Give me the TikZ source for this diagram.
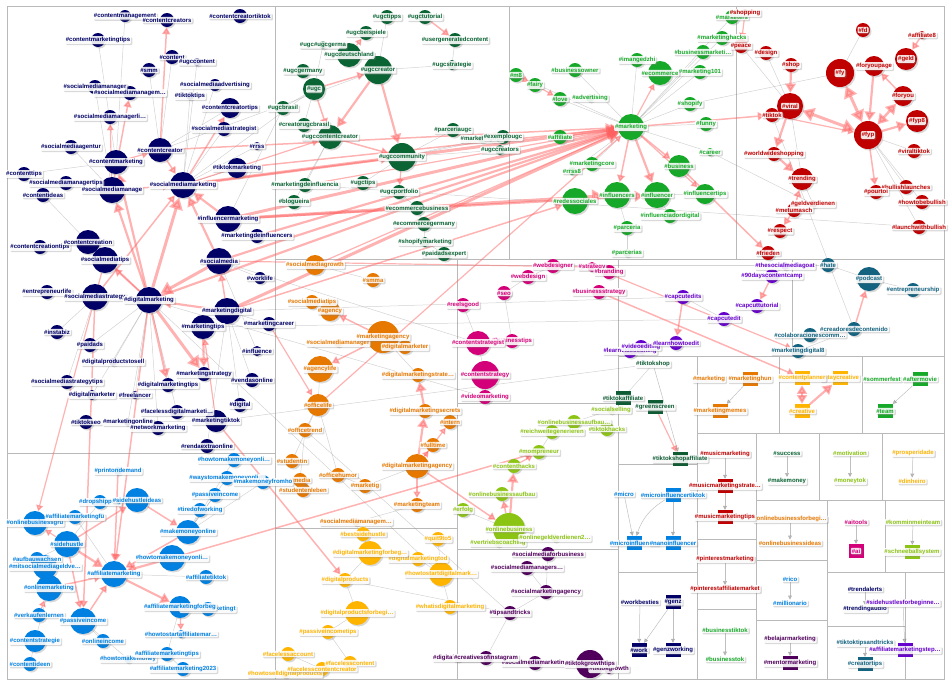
\documentclass[tikz,border=0pt]{standalone}
\usepackage{fontspec}
\setmainfont{Liberation Sans}
\usetikzlibrary{arrows.meta,shadows}
\pgfdeclarelayer{edges}
\pgfsetlayers{edges,main}
% colours of the groups
\definecolor{cnv}{RGB}{0,0,102}
\definecolor{cug}{RGB}{10,100,52}
\definecolor{cgr}{RGB}{22,168,40}
\definecolor{crd}{RGB}{192,0,0}
\definecolor{cor}{RGB}{230,120,0}
\definecolor{cpk}{RGB}{212,0,122}
\definecolor{cpu}{RGB}{102,0,204}
\definecolor{ctl}{RGB}{18,98,128}
\definecolor{cts}{RGB}{14,92,52}
\definecolor{cyl}{RGB}{255,180,0}
\definecolor{clm}{RGB}{140,196,20}
\definecolor{cdp}{RGB}{80,0,92}
\definecolor{cbl}{RGB}{0,128,224}
\definecolor{cedge}{RGB}{255,95,95}
\newcommand\tagfont{\fontsize{6}{7}\selectfont\bfseries}
% round vertices: name/x/y/size/colour/text
\newcommand\hublist{%
  contentmanagement/125/16/12/cnv/contentmanagement,
  contentcreators/167/20/14/cnv/contentcreators,
  creatortiktok/240/16/14/cnv/contentcreatortiktok,
  cmtips/98/40/14/cnv/contentmarketingtips,
  content/172/57/14/cnv/content,
  ugccontent/197/62/8/cnv/ugccontent,
  smm/149/70/14/cnv/smm,
  smmanager/95/87/14/cnv/socialmediamanager,
  smadvertising/215/85/12/cnv/socialmediaadvertising,
  smmanagem/130/93/14/cnv/socialmediamanagem\ldots,
  tiktoktips/190/96/8/cnv/tiktoktips,
  cctips/230/108/20/cnv/contentcreatortips,
  smmanagerli/110/117/14/cnv/socialmediamanagerli\ldots,
  smstrategist/224/129/14/cnv/socialmediastrategist,
  smagentur/71/147/14/cnv/socialmediaagentur,
  contentcreator/160/150/24/cnv/contentcreator,
  rrss/257/146/8/cnv/rrss,
  contentmarketing/116/162/24/cnv/contentmarketing,
  tiktokmarketing/237/168/20/cnv/tiktokmarketing,
  contenttips/24/174/14/cnv/contenttips,
  smmanagertips/66/183/14/cnv/socialmediamanagertips,
  smmarketing/183/185/26/cnv/socialmediamarketing,
  smmanage/112/190/26/cnv/socialmediamanage,
  contentideas/43/195/14/cnv/contentideas,
  imarketing/228/219/26/cnv/influencermarketing,
  mdinfluencers/257/236/14/cnv/marketingdeinfluencers,
  cctipsb/40/247/14/cnv/contentcreationtips,
  contentcreation/88/242/24/cnv/contentcreation,
  smtips/105/260/26/cnv/socialmediatips,
  socialmedia/219/261/26/cnv/socialmedia,
  worklife/260/278/12/cnv/worklife,
  entrepreneurlife/47/292/14/cnv/entrepreneurlife,
  smstrategy/95/297/26/cnv/socialmediastrategy,
  digitalmarketing/149/300/26/cnv/digitalmarketing,
  marketingdigital/227/311/26/cnv/marketingdigital,
  marketingtips/203/327/24/cnv/marketingtips,
  marketingcareer/269/324/14/cnv/marketingcareer,
  instabiz/57/332/14/cnv/instabiz,
  paidads/90/345/14/cnv/paidads,
  influence/257/351/10/cnv/influence,
  dpts/113/362/8/cnv/digitalproductstosell,
  vendasonline/252/380/14/cnv/vendasonline,
  mstrategy/204/374/14/cnv/marketingstrategy,
  smstrategytips/67/382/14/cnv/socialmediastrategytips,
  dmtips/168/385/14/cnv/digitalmarketingtips,
  digitalmarketer/92/395/10/cnv/digitalmarketer,
  freelancer/135/395/8/cnv/freelancer,
  digital/240/405/14/cnv/digital,
  fdm/177/412/14/cnv/facelessdigitalmarketi\ldots,
  mtiktok/216/421/22/cnv/marketingtiktok,
  tiktokseo/86/422/14/cnv/tiktokseo,
  monline/128/422/8/cnv/marketingonline,
  networkmarketing/158/428/14/cnv/networkmarketing,
  rendaextra/207/446/14/cnv/rendaextraonline,
  ugctipps/387/17/14/cug/ugctipps,
  ugctutorial/425/17/14/cug/ugctutorial,
  ugcbeispiele/366/33/14/cug/ugcbeispiele,
  ugcgerma/323/45/8/cug/ugc\#ugcgerma,
  usergenerated/455/40/14/cug/usergeneratedcontent,
  ugcdeutschland/349/55/24/cug/ugcdeutschland,
  ugcstrategie/452/65/10/cug/ugcstrategie,
  ugccreator/378/70/28/cug/ugccreator,
  ugcgermany/303/71/14/cug/ugcgermany,
  ugc/314/89/22/cug/ugc,
  ugcbrasil/283/108/14/cug/ugcbrasil,
  creatorugc/304/125/14/cug/creatorugcbrasil,
  ugccc/330/137/24/cug/ugccontentcreator,
  parceriaugc/453/130/14/cug/parceriaugc,
  marketingugc/482/139/8/cug/marketingugc,
  exemplougc/503/137/14/cug/exemplougc,
  ugccreators/500/150/10/cug/ugccreators,
  ugccommunity/402/157/28/cug/ugccommunity,
  mdinfluencia/305/185/14/cug/marketingdeinfluencia,
  ugctips/363/183/14/cug/ugctips,
  ugcportfolio/399/192/14/cug/ugcportfolio,
  blogueira/294/202/14/cug/blogueira,
  ecombusiness/417/208/14/cug/ecommercebusiness,
  ecomgermany/424/224/14/cug/ecommercegermany,
  shopifymarketing/425/242/10/cug/shopifymarketing,
  paidadsexpert/444/254/14/cug/paidadsexpert,
  marketers/732/17/14/cgr/marketers,
  mhacks/722/38/14/cgr/marketinghacks,
  bmarketing/703/52/14/cgr/businessmarketi\ldots,
  imangedzhi/637/60/14/cgr/imangedzhi,
  businessowner/575/70/14/cgr/businessowner,
  marketing101/700/72/14/cgr/marketing101,
  ecommerce/660/73/24/cgr/ecommerce,
  m8/516/75/14/cgr/m8,
  fairy/535/85/14/cgr/fairy,
  advertising/590/98/8/cgr/advertising,
  love/560/99/14/cgr/love,
  shopify/690/104/14/cgr/shopify,
  affiliate/560/137/14/cgr/affiliate,
  marketing/631/127/26/cgr/marketing,
  funny/706/124/14/cgr/funny,
  career/710/152/8/cgr/career,
  marketingcore/592/164/14/cgr/marketingcore,
  rrss8/572/171/8/cgr/rrss8,
  business/679/166/22/cgr/business,
  influencers/617/195/26/cgr/influencers,
  influencer/657/195/26/cgr/influencer,
  redessociales/575/201/26/cgr/redessociales,
  influencertips/705/194/20/cgr/influencertips,
  influenciador/670/216/14/cgr/influenciadordigital,
  parceria/627/228/14/cgr/parceria,
  parcerias/627/253/8/cgr/parcerias,
  shopping/745/13/8/crd/shopping,
  fd/863/30/14/crd/fd,
  affiliate8/922/35/8/crd/affiliate8,
  peace/741/46/14/crd/peace,
  design/766/53/14/crd/design,
  shop/791/65/14/crd/shop,
  geld/906/59/22/crd/geld,
  foryoupage/874/66/20/crd/foryoupage,
  fy/840/73/28/crd/fy,
  viral/790/106/26/crd/viral,
  tiktok/772/115/14/crd/tiktok,
  foryou/903/96/20/crd/foryou,
  fyp/868/135/28/crd/fyp,
  fyp8/917/121/22/crd/fyp8,
  worldwide/774/154/14/crd/worldwideshopping,
  viraltiktok/914/151/14/crd/viraltiktok,
  trending/802/179/22/crd/trending,
  bullish/906/187/14/crd/bullishlaunches,
  pourtoi/876/192/14/crd/pourtoi,
  howbullish/922/202/14/crd/howtobebullish,
  geldverdienen/813/204/8/crd/geldverdienen,
  metumasch/794/210/14/crd/metumasch,
  respect/780/231/14/crd/respect,
  launchbullish/919/227/14/crd/launchwithbullish,
  frieden/768/253/14/crd/frieden,
  smgrowth/315/265/20/cor/socialmediagrowth,
  smma/373/280/14/cor/smma,
  smtipsb/312/302/14/cor/socialmediatips,
  agency/330/311/20/cor/agency,
  smmanagerb/338/343/8/cor/socialmediamanager,
  magency/383/337/32/cor/marketingagency,
  digitalmarketerb/405/347/14/cor/digitalmarketer,
  agencylife/320/369/26/cor/agencylife,
  dmstrategy/418/375/14/cor/digitalmarketingstrate\ldots,
  officelife/318/405/22/cor/officelife,
  dmsecrets/425/411/14/cor/digitalmarketingsecrets,
  intern/450/422/14/cor/intern,
  officetrend/305/430/14/cor/officetrend,
  fulltime/433/445/14/cor/fulltime,
  studentin/292/461/14/cor/studentin,
  dmagency/417/466/24/cor/digitalmarketingagency,
  officehumor/338/475/14/cor/officehumor,
  studentenleben/303/490/14/cor/studentenleben,
  media/300/480/14/cor/media,
  marketig/365/486/14/cor/marketig,
  mteam/417/505/14/cor/marketingteam,
  smmanagemb/356/522/8/cor/socialmediamanagem\ldots,
  webdesigner/553/266/14/cpk/webdesigner,
  strategy/592/267/10/cpk/strategy,
  branding/609/272/14/cpk/branding,
  webdesign/528/277/14/cpk/webdesign,
  businessstrategy/599/292/14/cpk/businessstrategy,
  seo/504/293/14/cpk/seo,
  reelsgood/463/305/14/cpk/reelsgood,
  businesstips/512/341/14/cpk/businesstips,
  contentstrategist/478/343/24/cpk/contentstrategist,
  contentstrategy/485/375/28/cpk/contentstrategy,
  videomarketing/485/397/14/cpk/videomarketing,
  thesmgoat/785/266/8/cpu/thesocialmediagoat,
  daycamp/772/276/14/cpu/90dayscontentcamp,
  capcutedits/683/297/14/cpu/capcutedits,
  capcuttutorial/757/306/14/cpu/capcuttutorial,
  capcutedit/724/319/14/cpu/capcutedit,
  learnvideo/630/351/14/cpu/learnvideoediting,
  videoediting/641/347/14/cpu/videoediting,
  learnhowtoedit/676/343/14/cpu/learnhowtoedit,
  hate/828/265/14/ctl/hate,
  podcast/869/279/24/ctl/podcast,
  entrepreneurship/913/290/14/ctl/entrepreneurship,
  colaboraciones/810/335/14/ctl/colaboracionescomm\ldots,
  creadores/854/329/14/ctl/creadoresdecontenido,
  md8/798/351/14/ctl/marketingdigital8,
  socialselling/611/410/8/clm/socialselling,
  obaufbau/574/422/14/clm/onlinebusinessaufbau\ldots,
  reichweite/552/432/14/clm/reichweitegenerieren,
  tiktokhacks/607/429/14/clm/tiktokhacks,
  mompreneur/539/452/14/clm/mompreneur,
  contenthacks/514/466/14/clm/contenthacks,
  obaufbaub/502/494/14/clm/onlinebusinessaufbau,
  erfolg/463/510/14/clm/erfolg,
  vertrieb/498/543/8/clm/vertriebscoaching,
  ogv/555/538/8/clm/onlinegeldverdienen2\ldots,
  onlinebusiness/509/529/32/clm/onlinebusiness,
  smforbusiness/548/554/14/cdp/socialmediaforbusiness,
  smmanagers/527/568/14/cdp/socialmediamanagers\ldots,
  smagency/546/592/14/cdp/socialmarketingagency,
  tipsandtricks/510/613/14/cdp/tipsandtricks,
  digitalm/458/658/8/cdp/digitalmarketing,
  smmarketingb/535/663/14/cdp/socialmediamarketing,
  creativesofig/486/658/14/cdp/creativesofinstagram,
  tiktokgrowth/609/669/10/cdp/tiktokgrowth,
  tiktokgrowthtips/590/664/28/cdp/tiktokgrowthtips,
  bestsidehustle/363/534/14/cyl/bestsidehustle,
  quit/438/539/14/cyl/quit9to5,
  dmtoday/418/559/14/cyl/digitalmarketingtod,
  dmforbeg/370/553/24/cyl/digitalmarketingforbeg\ldots,
  howtostartdm/441/574/24/cyl/howtostartdigitalmark\ldots,
  digitalproducts/345/580/14/cyl/digitalproducts,
  whatisdm/450/607/14/cyl/whatisdigitalmarketing,
  dpforbegi/357/613/24/cyl/digitalproductsforbegi\ldots,
  passiveincometips/328/632/14/cyl/passiveincometips,
  facelessaccount/288/654/14/cyl/facelessaccount,
  howtosell/285/674/8/cyl/howtoselldigitalproducts,
  facelesscontent/350/663/14/cyl/facelesscontent,
  facelesscc/322/669/14/cyl/facelesscontentcreator,
  howtomakemoneyonli/234/460/14/cbl/howtomakemoneyonli\ldots,
  printondemand/118/471/8/cbl/printondemand,
  waystomake/227/478/14/cbl/waystomakemoneyonli\ldots,
  makemoneyfromhome/263/482/14/cbl/makemoneyfromho,
  passiveincomeb/215/495/14/cbl/passiveincome,
  dropshipping/100/502/14/cbl/dropshipping,
  sidehustleideas/137/500/24/cbl/sidehustleideas,
  tiredofworking/200/510/14/cbl/tiredofworking,
  onlinebusinessgr/35/523/24/cbl/onlinebusinessgrü,
  affmarketingfu/75/517/14/cbl/affiliatemarketingfü,
  makemoneyonline/188/532/24/cbl/makemoneyonline,
  sidehustle/67/544/26/cbl/sidehustle,
  aufbau/37/559/14/cbl/aufbauwachsen,
  mitsm/45/567/24/cbl/mitsocialmediageldve\ldots,
  howtomakemoneyonlib/172/558/26/cbl/howtomakemoneyonli\ldots,
  affiliatemarketing/114/574/26/cbl/affiliatemarketing,
  affiliatetiktok/206/577/14/cbl/affiliatetiktok,
  onlinemarketing/49/588/26/cbl/onlinemarketing,
  affmarketingt/208/609/14/cbl/affiliatemarketingt,
  affforbeg/180/607/22/cbl/affiliatemarketingforbeg,
  verkaufen/39/615/14/cbl/verkaufenlernen,
  passiveincome/83/621/26/cbl/passiveincome,
  howtostartaff/181/634/8/cbl/howtostartaffiliatemar\ldots,
  contentstrategie/35/641/22/cbl/contentstrategie,
  onlineincome/103/641/14/cbl/onlineincome,
  howtomakemoney/128/659/8/cbl/howtomakemoney,
  afftips/167/654/14/cbl/affiliatemarketingtips,
  contentideen/30/664/14/cbl/contentideen,
  aff2023/183/669/14/cbl/affiliatemarketing2023}
% square vertices: name/x/y/colour/text
\newcommand\boxlist{%
  tiktokaffiliate/623/398/cts/tiktokaffiliate,
  greenscreen/655/407/cts/greenscreen,
  tiktokshopaffiliate/680/459/cts/tiktokshopaffiliate,
  marketinghun/750/379/cor/marketinghun,
  marketingmemes/720/411/cor/marketingmemes,
  staycreative/840/378/cyl/staycreative,
  contentplanner/802/378/cyl/contentplanner,
  creative/802/411/cyl/creative,
  aftermovie/920/379/cgr/aftermovie,
  team/885/411/cgr/team,
  mmstrategy/725/486/crd/musicmarketingstrate\ldots,
  mmtips/725/517/crd/musicmarketingtips,
  microtiktok/673/495/cbl/microinfluencertiktok,
  microinflu/634/543/cbl/microinfluencer,
  nanoinfluencer/673/543/cbl/nanoinfluencer,
  ai/856/551/cpk/ai,
  schneeball/912/552/clm/schneeballsystem,
  genz/673/602/cnv/genz,
  work/639/650/cnv/work,
  genzworking/673/650/cnv/genzworking,
  mentormarketing/790/663/cdp/mentormarketing,
  creatortips/865/664/ctl/creatortips,
  affstep/905/650/cpu/affiliatemarketingstep\ldots}
% vertices shown by their text only: name/x/y/colour/text
\newcommand\taglist{%
  tiktokshop/653/364/cts/tiktokshop,
  marketin/709/379/cor/marketing,
  sommerfest/882/379/cgr/sommerfest,
  success/787/453/cug/success,
  makemoney/787/481/cug/makemoney,
  motivation/850/453/clm/motivation,
  moneytok/850/481/clm/moneytok,
  prosperidade/913/453/cyl/prosperidade,
  dinheiro/912/481/cyl/dinheiro,
  musicmarketing/725/454/crd/musicmarketing,
  micro/624/494/cbl/micro,
  obforbeg/790/519/cor/onlinebusinessforbegi\ldots,
  obideas/790/543/cor/onlinebusinessideas,
  aitools/856/522/cpk/aitools,
  kommin/913/522/clm/komminmeinteam,
  pinterestmarketing/725/559/crd/pinterestmarketing,
  pinterestaff/725/589/crd/pinterestaffiliatemarket,
  rico/790/579/cbl/rico,
  millionario/790/603/cbl/millionario,
  workbesties/640/602/cnv/workbesties,
  businesstiktok/725/630/cgr/businesstiktok,
  businesstok/725/659/cgr/businesstok,
  belajar/790/639/cdp/belajarmarketing,
  trendalerts/865/589/cnv/trendalerts,
  trendingaudio/865/609/cnv/trendingaudio,
  tttricks/865/643/ctl/tiktoktipsandtricks,
  shforbeg/903/603/cpu/sidehustlesforbeginne\ldots}
\begin{document}
\begin{tikzpicture}[x=1pt,y=-1pt,
  hub/.style={circle, fill=#1, inner sep=0pt, drop shadow={shadow xshift=1.5pt, shadow yshift=-1.5pt, opacity=.3}},
  tag/.style={fill=white, fill opacity=.88, text opacity=1, text=#1, font=\tagfont, inner sep=1pt, rounded corners=1pt, drop shadow={shadow xshift=1.2pt, shadow yshift=-1.2pt, opacity=.3}},
  box/.style={rectangle, fill=#1, minimum width=15pt, minimum height=14pt, inner sep=0pt},
  panel/.style={draw=gray!55, line width=.6pt},
  redge/.style={draw=cedge, opacity=.48, line width=#1, -{Triangle[]}},
  redge/.default=1.5pt,
  gedge/.style={draw=gray, opacity=.35, line width=.5pt},
  garrow/.style={draw=gray, opacity=.5, line width=.5pt, -{Triangle[length=4pt,width=4pt]}}]
\useasboundingbox (0,0) rectangle (950,686);

% vertices
\foreach \n/\x/\y/\d/\c/\t in \hublist
  \node[hub=\c, minimum size=\d pt] (\n) at (\x,\y) {};
\foreach \n/\x/\y/\c/\t in \boxlist
  \node[box=\c] (\n) at (\x,\y) {};
\foreach \n/\x/\y/\c/\t in \taglist
  \node[tag=\c] (\n) at (\x,\y) {\#\t};

\begin{pgfonlayer}{edges}
% panels
\draw[panel] (7,6) rectangle (944,679);
\draw[panel] (275,6) -- (275,679) (509,6) -- (509,259) (736,6) -- (736,259)
  (275,259) -- (944,259) (7,453) -- (275,453) (275,528) -- (457,528)
  (457,259) -- (457,679) (457,403) -- (618,403) (457,549) -- (618,549)
  (618,259) -- (618,679) (792,259) -- (792,356) (618,356) -- (944,356)
  (697,356) -- (697,679) (779,356) -- (779,433) (862,356) -- (862,433)
  (697,433) -- (944,433) (618,464) -- (697,464) (618,572) -- (697,572)
  (756,433) -- (756,679) (819,433) -- (819,500) (882,433) -- (882,500)
  (756,500) -- (944,500) (697,539) -- (756,539) (697,609) -- (756,609)
  (827,500) -- (827,679) (885,500) -- (885,572) (756,560) -- (827,560)
  (756,620) -- (827,620) (827,572) -- (944,572) (905,572) -- (905,679)
  (827,626) -- (905,626);

% grey edges
\foreach \a/\b in {cmtips/contentmarketing, content/contentcreator, smm/contentcreator,
  ugccontent/smmarketing, smadvertising/smmarketing, tiktoktips/smmarketing,
  smstrategist/smmarketing, rrss/smmarketing, smagentur/smmanage, contenttips/contentmarketing,
  smmanagertips/smmanage, contentideas/contentcreation, cctipsb/contentcreation,
  entrepreneurlife/smstrategy, instabiz/smstrategy, paidads/digitalmarketing,
  dpts/digitalmarketing, smstrategytips/smstrategy, digitalmarketer/digitalmarketing,
  freelancer/digitalmarketing, tiktokseo/mtiktok, monline/digitalmarketing,
  networkmarketing/digitalmarketing, fdm/digitalmarketing, digital/marketingdigital,
  vendasonline/marketingdigital, influence/socialmedia, worklife/socialmedia,
  marketingcareer/marketingdigital, rendaextra/marketingdigital, contentmanagement/contentmarketing,
  smmanager/smmanage, tiktokmarketing/smmarketing, cctips/contentcreator,
  contentcreator/ugccreator, smmarketing/ugc, imarketing/ugcbrasil, shopify/fy,
  career/geldverdienen, mtiktok/tiktokshop, digitalmarketing/videomarketing,
  marketingtips/capcutedit, tiktok/creadores, socialmedia/contentstrategist,
  digitalmarketing/howtostartdm, marketingdigital/capcutedits,
  ugc/ugcgermany, ugc/ugcbrasil, ugc/creatorugc, ugc/ugcgerma, ugccreator/ugcstrategie,
  ugccreator/ugctipps, usergenerated/ugcstrategie, ugccommunity/ugccreators,
  ugccommunity/parceriaugc, ugccommunity/exemplougc, ugccommunity/ugctips,
  ugcportfolio/ecombusiness, ecombusiness/ecomgermany, ugccc/mdinfluencia, ugccc/blogueira,
  ecomgermany/shopifymarketing, shopifymarketing/paidadsexpert, ugccommunity/marketingugc,
  marketing/m8, marketing/love, marketing/businessowner, marketing/imangedzhi,
  marketing/shopify, marketing/funny, marketing/career, marketing/marketingcore,
  marketing/rrss8, marketing/marketers, marketing/mhacks, marketing/bmarketing,
  marketing/marketing101, influencer/influenciador, influencers/parceria, parceria/parcerias,
  influencer/influencertips, fy/fd, fyp/viraltiktok, fyp/bullish, fyp/howbullish,
  fyp/launchbullish, fy/foryoupage, viral/design, viral/peace, trending/geldverdienen,
  viral/trending, smgrowth/smma, agency/smtipsb, agencylife/officelife,
  officelife/officetrend, officelife/studentin, officehumor/officelife, media/officetrend,
  marketig/officehumor, mteam/smmanagemb, dmagency/marketig, magency/digitalmarketerb,
  dmstrategy/magency, studentenleben/media, reelsgood/contentstrategist, seo/businesstips,
  webdesign/webdesigner, contentstrategist/contentstrategy, contentstrategy/videomarketing,
  webdesign/seo, capcutedits/capcutedit, thesmgoat/daycamp, videoediting/learnhowtoedit,
  hate/podcast, podcast/entrepreneurship, colaboraciones/creadores, md8/creadores,
  tiktokshop/tiktokaffiliate, erfolg/onlinebusiness, onlinebusiness/ogv,
  onlinebusiness/vertrieb, mompreneur/reichweite, obaufbau/socialselling,
  tiktokhacks/obaufbau, smforbusiness/smagency, smmanagers/smagency,
  tipsandtricks/creativesofig, tipsandtricks/smagency, creativesofig/tiktokgrowthtips,
  tiktokgrowthtips/tiktokgrowth, dmforbeg/bestsidehustle, dmforbeg/digitalproducts,
  digitalproducts/dpforbegi, dpforbegi/passiveincometips, passiveincometips/facelesscontent,
  facelessaccount/facelesscc, howtostartdm/whatisdm, howtostartdm/dmtoday,
  quit/howtostartdm, facelesscc/howtosell, digitalproducts/tipsandtricks,
  howtomakemoneyonli/makemoneyonline, waystomake/makemoneyonline,
  makemoneyfromhome/makemoneyonline, passiveincomeb/makemoneyonline,
  tiredofworking/makemoneyonline, affiliatetiktok/affiliatemarketing,
  affmarketingfu/affiliatemarketing, dropshipping/sidehustle, onlineincome/passiveincome,
  contentstrategie/onlinemarketing, contentideen/contentstrategie,
  howtomakemoney/passiveincome, afftips/affforbeg, aff2023/afftips,
  affmarketingt/affforbeg, aufbau/sidehustle, mdinfluencia/launchbullish,
  smgrowth/hate, officetrend/tipsandtricks}
  \draw[gedge] (\a) -- (\b);

% grey arrows in the small panels
\foreach \a/\b in {success/makemoney, motivation/moneytok, prosperidade/dinheiro,
  musicmarketing/mmstrategy, mmstrategy/mmtips, micro/microinflu, microtiktok/nanoinfluencer,
  obforbeg/obideas, aitools/ai, kommin/schneeball, pinterestmarketing/pinterestaff,
  rico/millionario, workbesties/work, genz/genzworking, genz/work,
  businesstiktok/businesstok, belajar/mentormarketing, trendalerts/trendingaudio,
  tttricks/creatortips, shforbeg/affstep, tiktokshop/tiktokshopaffiliate,
  marketinghun/marketingmemes, aftermovie/team}
  \draw[garrow] (\a) -- (\b);
\draw[garrow] (microtiktok) to[bend right=20] (microinflu);

% red edges, by width
\foreach \a/\b in {smmanage/smmanagerli, contentmarketing/contentcreator,
  mtiktok/marketingtips, smtips/onlinebusinessgr, mdinfluencia/marketing,
  smgrowth/marketing, officelife/marketing, smmarketing/ugccc, ugcdeutschland/ugcbeispiele,
  ugccommunity/ugcportfolio, m8/fairy, fairy/love, affiliate/marketing,
  marketing/ecommerce, marketing/influencertips, shopping/peace, tiktok/fyp,
  dmagency/fulltime, dmagency/intern, dmagency/mteam, marketingcareer/officelife,
  affforbeg/howtostartaff, sidehustle/onlinebusinessgr, verkaufen/onlinemarketing,
  mitsm/onlinemarketing, contenthacks/mompreneur, strategy/md8,
  greenscreen/tiktokshopaffiliate, socialmedia/strategy}
  \draw[redge=1.2pt] (\a) -- (\b);
\foreach \a/\b in {contentcreator/contentcreators, smmarketing/cctips, smmanage/smmanagem,
  digitalmarketing/contentcreation, digitalmarketing/smtips, marketingdigital/socialmedia,
  smmanage/smmarketing, contentcreator/smmarketing, smstrategy/smmarketing,
  digitalmarketing/affiliatemarketing, smstrategy/passiveincome, contentcreator/marketing,
  tiktokmarketing/marketing, marketingdigital/redessociales, smmarketing/ugccommunity,
  ugc/ugccc, ugc/ugccreator, ugctutorial/usergenerated, ugccc/ugccommunity,
  marketing/business, marketing/influencers, marketing/tiktok, business/frieden,
  fyp/pourtoi, metumasch/trending, metumasch/respect, affiliate8/geld, foryou/foryoupage,
  magency/agencylife, magency/agency, dmagency/onlinebusiness, mtiktok/digitalproducts,
  printondemand/affiliatemarketing, sidehustle/sidehustleideas,
  sidehustleideas/makemoneyonline, makemoneyonline/affiliatemarketing,
  onlinemarketing/affiliatemarketing, sidehustle/passiveincome,
  howtomakemoneyonlib/mompreneur, passiveincome/affiliatemarketing,
  onlinebusiness/obaufbaub, capcutedits/learnhowtoedit, daycamp/capcuttutorial,
  creadores/podcast, businessstrategy/contentplanner}
  \draw[redge] (\a) -- (\b);
\foreach \a/\b in {digitalmarketing/contentmarketing, digitalmarketing/dmtips,
  marketingdigital/digitalmarketing, imarketing/smmarketing, socialmedia/smmarketing,
  digitalmarketing/smmanage, mdinfluencers/marketing, socialmedia/marketing,
  digitalmarketing/marketing, imarketing/influencer, marketingtips/mstrategy,
  ugccreator/ugccommunity, ugccreator/ugccc, marketing/influencer, shop/viral,
  viral/worldwide, worldwide/trending, foryoupage/fyp, fyp/fyp8, dmsecrets/dmstrategy,
  dmagency/dmsecrets, sidehustle/affiliatemarketing, howtomakemoneyonlib/affiliatemarketing,
  affiliatemarketing/affforbeg, onlinebusiness/contenthacks, creative/staycreative}
  \draw[redge=2.2pt] (\a) -- (\b);
\foreach \a/\b in {digitalmarketing/smmarketing, digitalmarketing/mstrategy,
  socialmedia/digitalmarketing, smmarketing/marketing, imarketing/marketing,
  marketingdigital/marketing, imarketing/influencers}
  \draw[redge=3pt] (\a) -- (\b);
\draw[redge=3pt, {Triangle[]}-{Triangle[]}] (viral) -- (fyp);
\draw[redge=3pt, {Triangle[]}-{Triangle[]}] (fy) -- (fyp);
\draw[redge=2.5pt, {Triangle[]}-{Triangle[]}] (foryou) -- (fyp);
\draw[redge=2pt, {Triangle[]}-{Triangle[]}] (contentplanner) -- (creative);
\end{pgfonlayer}

% tags on top
\foreach \n/\x/\y/\d/\c/\t in \hublist
  \node[tag=\c] (\n-t) at (\x,\y) {\#\t};
\foreach \n/\x/\y/\c/\t in \boxlist
  \node[tag=\c] (\n-t) at (\x,\y) {\#\t};
\end{tikzpicture}
\end{document}
